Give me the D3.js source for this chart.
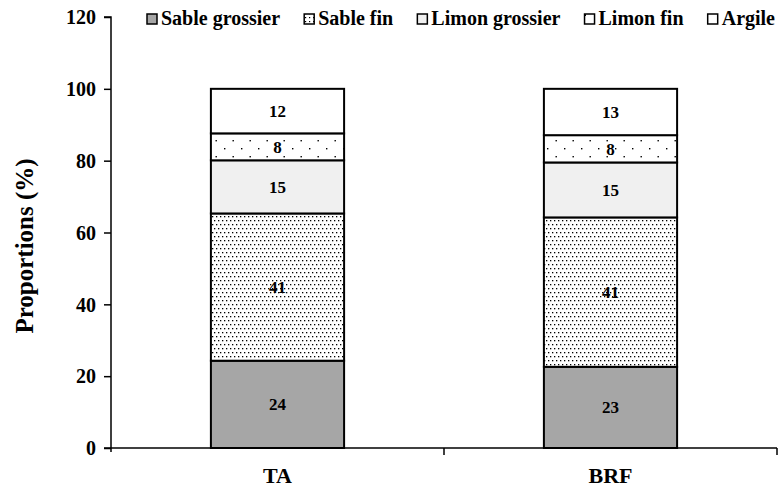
<!DOCTYPE html>
<html><head><meta charset="utf-8">
<script src="https://cdn.jsdelivr.net/npm/d3@7"></script>
<style>body{margin:0;background:#fff}svg{display:block}</style>
</head><body>
<svg id="c" width="778" height="487"></svg>
<script>
const categories = ["TA", "BRF"];
const seriesNames = ["Sable grossier", "Sable fin", "Limon grossier", "Limon fin", "Argile"];
const sableGrossier = [24.3, 22.6];
const sableFin = [41.0, 41.6];
const limonGrossier = [14.8, 15.3];
const limonFin = [7.5, 7.6];
const argile = [12.4, 12.9];
const labels = [[24, 23], [41, 41], [15, 15], [8, 8], [12, 13]];
const yTicks = [0, 20, 40, 60, 80, 100, 120];

const FONT = "'Times New Roman', 'Liberation Serif', Tinos, 'Nimbus Roman', 'DejaVu Serif', serif";
const series = [sableGrossier, sableFin, limonGrossier, limonFin, argile];
const svg = d3.select("#c");
const defs = svg.append("defs");
const p1 = defs.append("pattern").attr("id","dense").attr("patternUnits","userSpaceOnUse").attr("width",8).attr("height",8);
p1.append("rect").attr("width",8).attr("height",8).attr("fill","#fff");
[[0,0],[4,0],[2,4],[6,4]].forEach(([x,y])=>p1.append("rect").attr("x",x).attr("y",y).attr("width",1.3).attr("height",1.3).attr("fill","#000"));
const p1b = defs.append("pattern").attr("id","denseL").attr("patternUnits","userSpaceOnUse").attr("width",4).attr("height",4);
p1b.append("rect").attr("width",4).attr("height",4).attr("fill","#fff");
p1b.append("rect").attr("x",1).attr("y",1).attr("width",1.2).attr("height",1.2).attr("fill","#000");
const p2 = defs.append("pattern").attr("id","sparse").attr("patternUnits","userSpaceOnUse").attr("width",17).attr("height",16);
p2.append("rect").attr("width",17).attr("height",16).attr("fill","#fff");
[[3,4],[11.5,12]].forEach(([x,y])=>p2.append("rect").attr("x",x).attr("y",y).attr("width",1.4).attr("height",1.4).attr("fill","#000"));
const p2b = defs.append("pattern").attr("id","sparseL").attr("patternUnits","userSpaceOnUse").attr("width",10).attr("height",10);
p2b.append("rect").attr("width",10).attr("height",10).attr("fill","#fff");
p2b.append("rect").attr("x",4.2).attr("y",4.2).attr("width",1.8).attr("height",1.8).attr("fill","#000");

const fills = ["#a6a6a6","url(#dense)","#f0f0f0","url(#sparse)","#ffffff"];
const legendFills = ["#a6a6a6","url(#denseL)","#f0f0f0","url(#sparseL)","#ffffff"];

const x0 = 111, x1 = 777, yTop = 17, yBot = 448;
const x = d3.scaleBand().domain(categories).range([x0, x1]).paddingInner(0.6).paddingOuter(0.3);
const y = d3.scaleLinear().domain([0, 120]).range([yBot, yTop]);

const stackData = categories.map((c,i)=>{const o={cat:c}; seriesNames.forEach((s,j)=>o[s]=series[j][i]); return o;});
const stacked = d3.stack().keys(seriesNames)(stackData);

function txt(sel){ return sel.attr("font-family",FONT).attr("font-weight","bold").style("font-family",FONT).style("font-weight","bold").attr("fill","#000"); }

stacked.forEach((layer, j)=>{
  const g = svg.append("g");
  layer.forEach((d,i)=>{
    g.append("rect").attr("x",x(categories[i])).attr("width",x.bandwidth())
      .attr("y",y(d[1])).attr("height",y(d[0])-y(d[1]))
      .attr("fill",fills[j]).attr("stroke","#000").attr("stroke-width",2);
    txt(g.append("text")).attr("x",x(categories[i])+x.bandwidth()/2).attr("y",(y(d[0])+y(d[1]))/2)
      .attr("dy","0.35em").attr("text-anchor","middle").attr("font-size",17)
      .text(labels[j][i]);
  });
});

const ya = svg.append("g").attr("transform",`translate(${x0},0)`)
  .call(d3.axisLeft(y).tickValues(yTicks).tickSize(7).tickPadding(8));
ya.attr("font-family",FONT);
ya.select(".domain").attr("stroke","#000").attr("stroke-width",1.5).attr("d",`M-7,${yTop}H0V${yBot+4}`);
ya.selectAll(".tick line").attr("stroke","#000").attr("stroke-width",1.5);
txt(ya.selectAll(".tick text")).attr("font-size",20).attr("dy","0.34em");

svg.append("line").attr("x1",x0-7).attr("x2",x1).attr("y1",yBot).attr("y2",yBot).attr("stroke","#000").attr("stroke-width",1.5);
const bounds = [x0 + (x1-x0)/2, x1];
bounds.forEach(b=>svg.append("line").attr("x1",b).attr("x2",b).attr("y1",yBot).attr("y2",yBot+7).attr("stroke","#000").attr("stroke-width",1.5));
categories.forEach(c=>txt(svg.append("text")).attr("x",x(c)+x.bandwidth()/2).attr("y",483).attr("text-anchor","middle").attr("font-size",22).text(c));

txt(svg.append("text")).attr("transform","translate(33,246) rotate(-90)").attr("text-anchor","middle").attr("font-size",25).text("Proportions (%)");

// legend laid out left-to-right, fitted between 147 and 775
const legStart = 147, legEnd = 775, sq = 10, sqGap = 4;
const legTexts = seriesNames.map(s=>txt(svg.append("text")).attr("y",25).attr("font-size",20).text(s));
const widths = legTexts.map(t=>t.node().getComputedTextLength());
const gap = (legEnd - legStart - d3.sum(widths) - seriesNames.length*(sq+sqGap)) / (seriesNames.length-1);
let cx = legStart;
seriesNames.forEach((s,j)=>{
  svg.append("rect").attr("x",cx).attr("y",14).attr("width",sq).attr("height",sq)
    .attr("fill",legendFills[j]).attr("stroke","#000").attr("stroke-width",1.5);
  legTexts[j].attr("x",cx+sq+sqGap);
  cx += sq + sqGap + widths[j] + gap;
});
</script>
</body></html>
